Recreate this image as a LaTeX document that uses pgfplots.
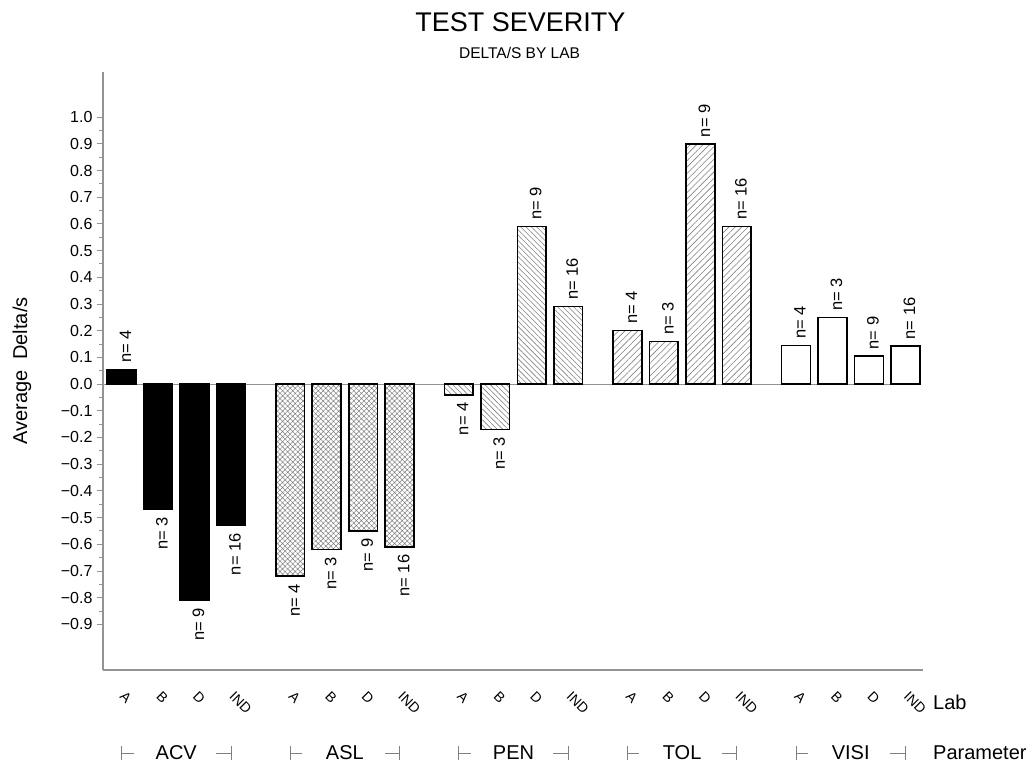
\documentclass[border=0pt]{standalone}
\usepackage{fontspec}
\setmainfont{Liberation Sans}
\usepackage{pgfplots}
\pgfplotsset{compat=1.18}
\usetikzlibrary{patterns.meta}
\tikzset{nfont/.style={font=\fontsize{16.5}{19}\selectfont}}
\pgfplotsset{
  barbase/.style={ybar, bar shift=0pt, bar width=0.79, draw=black, line width=1.6pt,
    point meta=explicit symbolic, nodes near coords={n= \pgfplotspointmeta}},
  pos/.style={barbase, every node near coord/.append style={nfont, inner sep=0pt, xshift=4pt, yshift=6pt, rotate=90, anchor=west}},
  neg/.style={barbase, every node near coord/.append style={nfont, inner sep=0pt, xshift=4pt, yshift=-7pt, rotate=90, anchor=east}},
}
\begin{document}
\begin{tikzpicture}
\path[use as bounding box] (-103pt,-95pt) rectangle (929pt,670pt);
\begin{axis}[
  at={(0,0)}, anchor=south west,
  scale only axis, width=820pt, height=598pt,
  xmin=-0.507, xmax=21.96, ymin=-1.071, ymax=1.169,
  axis lines=left,
  axis line style={-, draw=gray!85, line width=1.1pt},
  clip=false,
  ytick={-0.9,-0.8,-0.7,-0.6,-0.5,-0.4,-0.3,-0.2,-0.1,0,0.1,0.2,0.3,0.4,0.5,0.6,0.7,0.8,0.9,1.0},
  yticklabels={−0.9,−0.8,−0.7,−0.6,−0.5,−0.4,−0.3,−0.2,−0.1,0.0,0.1,0.2,0.3,0.4,0.5,0.6,0.7,0.8,0.9,1.0},
  minor y tick num=1,
  tick align=outside,
  major tick length=6pt, minor tick length=3.5pt,
  y tick style={draw=gray!85, line width=0.9pt},
  yticklabel style={font=\fontsize{16}{19}\selectfont, xshift=-1pt},
  xtick={0,1,2,3,4.62,5.62,6.62,7.62,9.24,10.24,11.24,12.24,13.86,14.86,15.86,16.86,18.48,19.48,20.48,21.48},
  xticklabels={A,B,D,IND,A,B,D,IND,A,B,D,IND,A,B,D,IND,A,B,D,IND},
  x tick style={draw=none},
  xticklabel style={xshift=1pt, yshift=-18pt, rotate=-45, anchor=west, inner sep=0pt, font=\fontsize{14}{16}\selectfont},
]
\draw[gray!85, line width=1pt] (axis cs:-0.507,0) -- (axis cs:21.9,0);
% ACV
\addplot[pos, fill=black] coordinates {(0,0.055) [4]};
\addplot[neg, fill=black] coordinates {(1,-0.47) [3] (2,-0.81) [9] (3,-0.53) [16]};
% ASL
\addplot[neg, pattern={Hatch[angle=45,distance=3.6pt,line width=0.5pt]}, pattern color=gray] coordinates {(4.62,-0.72) [4] (5.62,-0.62) [3] (6.62,-0.55) [9] (7.62,-0.61) [16]};
% PEN
\addplot[neg, pattern={Lines[angle=-45,distance=3.8pt,line width=0.6pt]}, pattern color=gray] coordinates {(9.24,-0.04) [4] (10.24,-0.17) [3]};
\addplot[pos, pattern={Lines[angle=-45,distance=3.8pt,line width=0.6pt]}, pattern color=gray] coordinates {(11.24,0.59) [9] (12.24,0.29) [16]};
% TOL
\addplot[pos, pattern={Lines[angle=45,distance=4.5pt,line width=0.6pt]}, pattern color=gray] coordinates {(13.86,0.20) [4] (14.86,0.16) [3] (15.86,0.90) [9] (16.86,0.59) [16]};
% VISI
\addplot[pos, fill=white] coordinates {(18.48,0.145) [4] (19.48,0.25) [3] (20.48,0.105) [9] (21.48,0.142) [16]};

\coordinate (L1) at (axis cs:0,-1.382);     \coordinate (R1) at (axis cs:3,-1.382);
\coordinate (L2) at (axis cs:4.62,-1.382);  \coordinate (R2) at (axis cs:7.62,-1.382);
\coordinate (L3) at (axis cs:9.24,-1.382);  \coordinate (R3) at (axis cs:12.24,-1.382);
\coordinate (L4) at (axis cs:13.86,-1.382); \coordinate (R4) at (axis cs:16.86,-1.382);
\coordinate (L5) at (axis cs:18.48,-1.382); \coordinate (R5) at (axis cs:21.48,-1.382);

\node[font=\fontsize{20}{24}\selectfont] at (axis cs:1.5,-1.382) {ACV};
\node[font=\fontsize{20}{24}\selectfont] at (axis cs:6.12,-1.382) {ASL};
\node[font=\fontsize{20}{24}\selectfont] at (axis cs:10.74,-1.382) {PEN};
\node[font=\fontsize{20}{24}\selectfont] at (axis cs:15.36,-1.382) {TOL};
\node[font=\fontsize{20}{24}\selectfont] at (axis cs:19.98,-1.382) {VISI};
\node[font=\fontsize{20}{24}\selectfont, anchor=west, inner sep=0pt] at ([xshift=830pt,yshift=-32pt]rel axis cs:0,0) {Lab};
\node[font=\fontsize{20}{24}\selectfont, anchor=west, inner sep=0pt] at ([xshift=830pt,yshift=-83pt]rel axis cs:0,0) {Parameter};
\node[font=\fontsize{20}{24}\selectfont, rotate=90] at ([xshift=-81pt]rel axis cs:0,0.5) {Average\hspace{0.55em}Delta/s};
\node[font=\fontsize{27}{32}\selectfont] at ([yshift=50pt]rel axis cs:0.509,1) {TEST SEVERITY};
\node[font=\fontsize{15.5}{18}\selectfont] at ([yshift=19.5pt]rel axis cs:0.508,1) {DELTA/S BY LAB};
\end{axis}
\foreach \i in {1,...,5}{
  \draw[gray, line width=0.9pt] ([yshift=7pt]L\i) -- ([yshift=-7pt]L\i);
  \draw[gray, line width=0.9pt] (L\i) -- ++(12pt,0);
  \draw[gray, line width=0.9pt] ([yshift=7pt]R\i) -- ([yshift=-7pt]R\i);
  \draw[gray, line width=0.9pt] (R\i) -- ++(-15pt,0);
}
\end{tikzpicture}
\end{document}
